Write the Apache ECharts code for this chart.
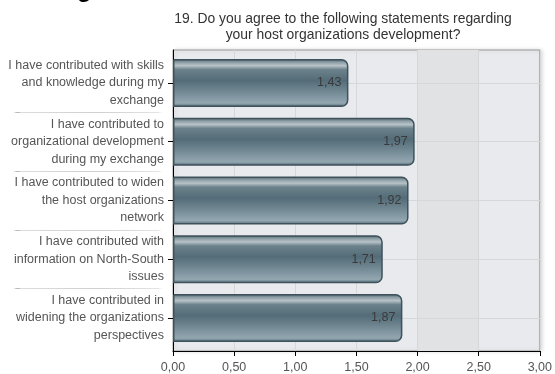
<!DOCTYPE html>
<html><head><meta charset="utf-8">
<script src="https://cdn.jsdelivr.net/npm/echarts@6/dist/echarts.min.js"></script>
<style>html,body{margin:0;padding:0;background:#fff}#c{width:555px;height:374px}</style>
</head><body><div id="c"></div>
<script>
var categories = [
  "I have contributed with skills\nand knowledge during my\nexchange",
  "I have contributed to\norganizational development\nduring my exchange",
  "I have contributed to widen\nthe host organizations\nnetwork",
  "I have contributed with\ninformation on North-South\nissues",
  "I have contributed in\nwidening the organizations\nperspectives"
];
var values = [1.43, 1.97, 1.92, 1.71, 1.87];
var xTicks = ["0,00","0,50","1,00","1,50","2,00","2,50","3,00"];
var titleText = "19. Do you agree to the following statements regarding\nyour host organizations development?";

var FONT = 'Liberation Sans, Arial';
var chart = echarts.init(document.getElementById('c'), null, {renderer:'canvas'});
var barGrad = new echarts.graphic.LinearGradient(0,0,0,1,[
  {offset:0, color:'#4a5f69'},
  {offset:0.07, color:'#8d9ea6'},
  {offset:0.14, color:'#b8c3c8'},
  {offset:0.22, color:'#6c828c'},
  {offset:0.45, color:'#536c77'},
  {offset:0.75, color:'#7b919c'},
  {offset:0.92, color:'#93a7b1'},
  {offset:1, color:'#4f6670'}
]);
var sepGrad = new echarts.graphic.LinearGradient(0,0,1,0,[
  {offset:0, color:'rgba(0,0,0,0)'},
  {offset:0.06, color:'rgba(0,0,0,0)'},
  {offset:0.1, color:'#dcdcdc'},
  {offset:0.55, color:'#cfcfcf'},
  {offset:0.9, color:'#e4e4e4'},
  {offset:0.935, color:'rgba(255,255,255,0)'},
  {offset:1, color:'rgba(255,255,255,0)'}
]);
var inner = [];
for (var i = 1; i < categories.length; i++) inner.push(i);
chart.setOption({
  animation:false,
  title:{text:titleText, left:338, textAlign:'center', top:6,
    textStyle:{fontFamily:FONT, fontSize:13.9, fontWeight:'normal', color:'#333', lineHeight:16}},
  graphic:[{type:'text', left:77, top:-22, style:{text:'g', fontSize:24, fontWeight:'bold', fill:'#000', fontFamily:FONT}}],
  grid:[
    {left:173, right:14, top:50, bottom:22, show:true, backgroundColor:'#e8eaed', borderColor:'#9a9a9a', borderWidth:1,
      shadowColor:'rgba(0,0,0,0.15)', shadowBlur:4, shadowOffsetX:2, shadowOffsetY:0},
    {left:173, right:14, top:53.6, bottom:26.6}
  ],
  xAxis:[{type:'value', gridIndex:0, min:0, max:3, interval:0.5, z:1,
    axisLine:{show:true, lineStyle:{color:'#000', width:1}},
    axisTick:{show:true, length:5, lineStyle:{color:'#000'}},
    axisLabel:{color:'#555', fontSize:12.5, fontFamily:FONT, margin:10,
      formatter:function(v){ return xTicks[Math.round(v/0.5)]; }},
    splitLine:{show:true, lineStyle:{color:'#d6d7d9', width:1}}
  },{type:'value', gridIndex:1, min:0, max:3, interval:0.5, show:false}],
  yAxis:[{type:'value', gridIndex:0, min:0, max:1, z:1,
    axisLine:{show:true, lineStyle:{color:'#000'}},
    axisTick:{show:false}, axisLabel:{show:false}, splitLine:{show:false}
  },{type:'category', gridIndex:1, data:categories, inverse:true,
    axisLine:{show:false},
    axisTick:{show:true, alignWithLabel:true, length:5, lineStyle:{color:'#000'}},
    axisLabel:{color:'#555', fontSize:12.5, fontFamily:FONT, lineHeight:17.5, margin:9, align:'right'},
    splitLine:{show:false}
  },{type:'value', gridIndex:1, min:0, max:categories.length, interval:1, inverse:true, position:'left',
    axisLine:{show:false},
    axisTick:{show:true, length:167, customValues:inner, lineStyle:{color:sepGrad}},
    axisLabel:{show:false}, splitLine:{show:false}
  }],
  series:[{type:'line', xAxisIndex:0, yAxisIndex:0, data:[], silent:true,
    markArea:{silent:true, z:0.5, itemStyle:{color:'#e1e2e4'}, data:[[{xAxis:2},{xAxis:2.5}]]}
  },{type:'bar', data:values, barWidth:48, xAxisIndex:1, yAxisIndex:1, z:2,
    itemStyle:{color:barGrad, borderColor:'#3e525b', borderWidth:1.5, borderRadius:[0,6,6,0]},
    label:{show:true, position:'insideRight', distance:7, color:'#3a3a3a', fontSize:12.5, fontFamily:FONT,
      formatter:function(p){ return p.value.toFixed(2).replace('.', ','); }},
    markLine:{silent:true, z:1, symbol:'none', label:{show:false},
      lineStyle:{color:'#d6d7d9', type:'solid', width:1},
      data:categories.map(function(c){ return {yAxis:c}; })}
  }]
});
</script></body></html>
